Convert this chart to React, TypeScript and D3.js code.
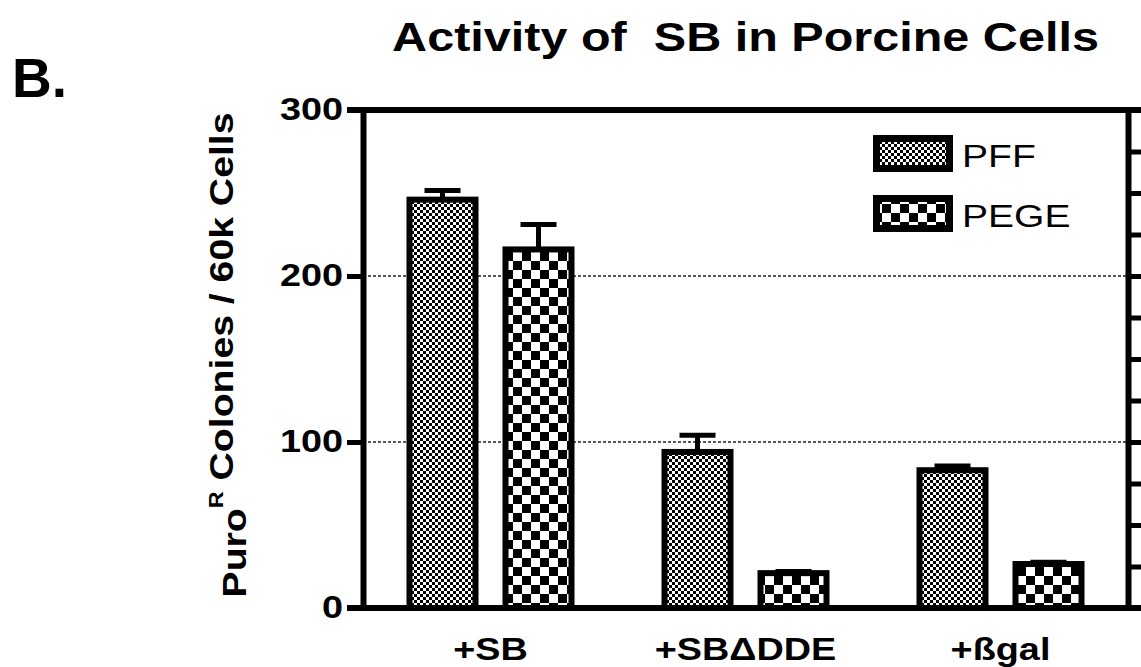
import React, { useEffect, useRef } from "react";
import * as d3 from "d3";

const groups = ["+SB", "+SBΔDDE", "+ßgal"];
const series = ["PFF", "PEGE"];
const pffValues = [246, 94, 83];
const pffErrors = [5.5, 10, 2.5];
const pegeValues = [216, 21, 26.5];
const pegeErrors = [15, 1, 1];
const yTicks = [0, 100, 200, 300];
const gridValues = [100, 200];

export default function App() {
  const ref = useRef<SVGSVGElement | null>(null);

  useEffect(() => {
    const svg = d3.select(ref.current as any);
    svg.selectAll("*").remove();
    const width = 1141;
    const height = 667;
    svg.attr("viewBox", `0 0 ${width} ${height}`);

    const left = 363, right = 1128, top = 110, bottom = 608;
    const sx = 1.22; // the source font is wider than Liberation Sans
    const font = "'Liberation Sans', Arial, Helvetica, sans-serif";

    // patterns
    const defs = svg.append("defs");
    const makeChecker = (id: string, cell: number) => {
      const p = defs.append("pattern").attr("id", id).attr("patternUnits", "userSpaceOnUse")
        .attr("width", cell * 2).attr("height", cell * 2);
      p.append("rect").attr("width", cell * 2).attr("height", cell * 2).attr("fill", "#fff");
      p.append("rect").attr("width", cell).attr("height", cell).attr("fill", "#000");
      p.append("rect").attr("x", cell).attr("y", cell).attr("width", cell).attr("height", cell).attr("fill", "#000");
    };
    makeChecker("pat-PFF", 3);
    makeChecker("pat-PEGE", 9);

    const y = d3.scaleLinear().domain([0, 300]).range([bottom, top]);
    const x0 = d3.scaleBand().domain(groups).range([left, right]).padding(0);
    const x1 = d3.scaleBand().domain(series).range([-84, 84]).paddingInner(0.25);
    const minor = d3.range(0, 301, 25);

    // gridlines
    svg.append("g").selectAll("line").data(gridValues).enter().append("line")
      .attr("x1", left).attr("x2", right)
      .attr("y1", d => y(d)).attr("y2", d => y(d))
      .attr("stroke", "#222").attr("stroke-width", 1.6).attr("stroke-dasharray", "3,2");

    // left axis
    const la = svg.append("g").attr("transform", `translate(${left},0)`);
    la.call(d3.axisLeft(y).tickValues(minor).tickSize(10).tickSizeOuter(0).tickFormat(() => "") as any);
    la.call(d3.axisLeft(y).tickValues(yTicks).tickSize(16).tickSizeOuter(0).tickPadding(4)
      .tickFormat(d3.format("d")) as any);
    la.selectAll("path.domain").attr("stroke", "#000").attr("stroke-width", 6);
    la.selectAll(".tick line").attr("stroke", "#000").attr("stroke-width", 5);
    la.selectAll(".tick text")
      .attr("x", -20 / sx)
      .attr("transform", `scale(${sx},1)`)
      .attr("fill", "#000")
      .style("font-family", font).style("font-weight", "bold").style("font-size", "31px");

    // right axis
    const ra = svg.append("g").attr("transform", `translate(${right},0)`);
    ra.call(d3.axisRight(y).tickValues(minor).tickSize(14).tickSizeOuter(0).tickFormat(() => "") as any);
    ra.selectAll("path.domain").attr("stroke", "#000").attr("stroke-width", 6);
    ra.selectAll(".tick line").attr("stroke", "#000").attr("stroke-width", 5);

    // top and bottom frame lines
    svg.append("g").selectAll("line").data([0, 300]).enter().append("line")
      .attr("x1", left - 16).attr("x2", width)
      .attr("y1", d => y(d)).attr("y2", d => y(d))
      .attr("stroke", "#000").attr("stroke-width", 6);

    const data = groups.flatMap((g, i) => [
      { group: g, series: "PFF", value: pffValues[i], err: pffErrors[i] },
      { group: g, series: "PEGE", value: pegeValues[i], err: pegeErrors[i] },
    ]);
    const cx = (d: any) => (x0(d.group) || 0) + x0.bandwidth() / 2 + (x1(d.series) || 0) + x1.bandwidth() / 2;
    const sw = 6;

    // error bars
    const eb = svg.append("g").selectAll("g").data(data).enter().append("g");
    eb.append("line")
      .attr("x1", cx).attr("x2", cx)
      .attr("y1", d => y(d.value)).attr("y2", d => y(d.value + d.err))
      .attr("stroke", "#000").attr("stroke-width", 5);
    eb.append("line")
      .attr("x1", d => cx(d) - 18).attr("x2", d => cx(d) + 18)
      .attr("y1", d => y(d.value + d.err)).attr("y2", d => y(d.value + d.err))
      .attr("stroke", "#000").attr("stroke-width", 5);

    // bars
    svg.append("g").selectAll("rect").data(data).enter().append("rect")
      .attr("x", d => cx(d) - x1.bandwidth() / 2 + sw / 2)
      .attr("width", x1.bandwidth() - sw)
      .attr("y", d => y(d.value))
      .attr("height", d => y(0) - y(d.value))
      .attr("fill", d => `url(#pat-${d.series})`)
      .attr("stroke", "#000").attr("stroke-width", sw);

    // x labels
    svg.append("g").selectAll("text").data(groups).enter().append("text")
      .attr("transform", d => `translate(${(x0(d) || 0) + x0.bandwidth() / 2},660) scale(${sx},1)`)
      .attr("text-anchor", "middle")
      .style("font-family", font).style("font-weight", "bold").style("font-size", "31px")
      .text(d => d);

    // legend
    const lg = svg.append("g").selectAll("g").data(series).enter().append("g")
      .attr("transform", (d, i) => `translate(873,${135 + i * 60})`);
    lg.append("rect")
      .attr("x", 3.5).attr("y", 3.5).attr("width", 73).attr("height", 30)
      .attr("fill", d => `url(#pat-${d})`)
      .attr("stroke", "#000").attr("stroke-width", 7);
    lg.append("text")
      .attr("transform", `translate(89,32) scale(${sx},1)`)
      .style("font-family", font).style("font-size", "32px")
      .text(d => d);

    // title
    svg.append("text")
      .attr("transform", `translate(${(left + right) / 2},51) scale(1.17,1)`)
      .attr("text-anchor", "middle")
      .style("white-space", "pre")
      .style("font-family", font).style("font-weight", "bold").style("font-size", "41.5px")
      .text("Activity of  SB in Porcine Cells");

    // panel letter
    svg.append("text")
      .attr("transform", "translate(12,97)")
      .style("font-family", font).style("font-weight", "bold").style("font-size", "55px")
      .text("B.");

    // y label
    const yl = svg.append("text")
      .attr("transform", `translate(233,355) rotate(-90) scale(1.17,1)`)
      .attr("text-anchor", "middle")
      .style("font-family", font).style("font-weight", "bold").style("font-size", "33.5px");
    yl.append("tspan").attr("dy", 13).text("Puro");
    yl.append("tspan").attr("dy", -23).style("font-size", "20px").text("R");
    yl.append("tspan").attr("dy", 10).style("white-space", "pre").text(" Colonies / 60k Cells");
  }, []);

  return (
    <svg
      ref={ref as any}
      width={1141}
      height={667}
      style={{ position: "absolute", left: 0, top: 0, background: "#fff" }}
    />
  );
}
